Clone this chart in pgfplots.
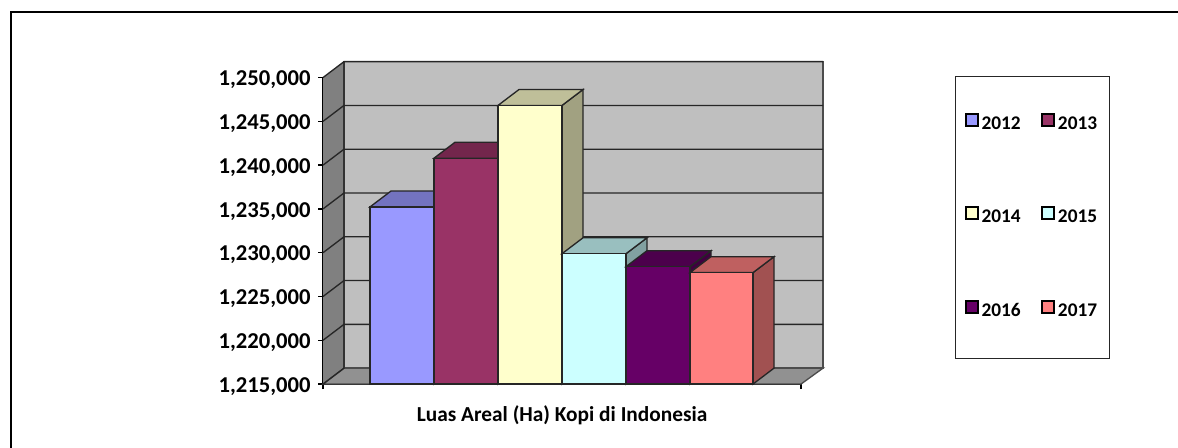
\documentclass[border=0pt]{standalone}
\usepackage{pgfplots}
\pgfplotsset{compat=1.18}
\usepackage{fontspec}
\setmainfont{Carlito}
\definecolor{cA}{HTML}{9999FF}
\definecolor{cB}{HTML}{993366}
\definecolor{cC}{HTML}{FFFFCC}
\definecolor{cD}{HTML}{CCFFFF}
\definecolor{cE}{HTML}{660066}
\definecolor{cF}{HTML}{FF8080}
\def\px{0.75pt}
% one bar: side face, top face, then the front face with its legend entry
% #1 colour, #2 left edge, #3 right edge, #4 value, #5 right edge + depth, #6 left edge + depth, #7 value + depth
\newcommand{\barbox}[7]{%
  \addplot[forget plot,fill=#1!63!black,draw=black!85,line width=1pt] coordinates {(#3,1215000) (#5,1216818) (#5,#7) (#3,#4)} -- cycle;
  \addplot[forget plot,fill=#1!75!black,draw=black!85,line width=1pt] coordinates {(#2,#4) (#3,#4) (#5,#7) (#6,#7)} -- cycle;
  \addplot[fill=#1,draw=black!85,line width=1pt] coordinates {(#2,1215000) (#3,1215000) (#3,#4) (#2,#4)} -- cycle;
}
\begin{document}
\begin{tikzpicture}[x=\px,y=\px]
\useasboundingbox (0,0) rectangle (1178,448);
\fill[white] (0,0) rectangle (1178,448);
\begin{axis}[
  at={(323,73)},anchor=south west,
  scale only axis,width=478*\px,height=306.5*\px,
  xmin=323,xmax=801,ymin=1215000,ymax=1250000,
  clip=false,
  axis x line*=bottom,axis y line*=left,
  axis line style={-,black,line width=1pt},
  tick style={black,line width=1pt},
  tick align=outside,major tick length=5*\px,
  xtick={323,801},xticklabels={,},
  ytick={1215000,1220000,1225000,1230000,1235000,1240000,1245000,1250000},
  yticklabel style={/pgf/number format/fixed,/pgf/number format/1000 sep={,},/pgf/number format/assume math mode=true,font=\fontsize{17}{17}\selectfont\bfseries,xshift=-2pt,yshift=-1.7pt},
  scaled y ticks=false,
  xlabel={Luas Areal (Ha) Kopi di Indonesia},
  xlabel style={font=\fontsize{16}{16}\selectfont\bfseries,yshift=-2pt},
  legend columns=2,
  legend style={at={(1.3222,1.0065)},anchor=north west,draw=black!85,line width=0.8pt,
    font=\fontsize{14.5}{14.5}\selectfont\bfseries,inner xsep=7pt,inner ysep=27.5pt,
    /tikz/every even column/.append style={column sep=13.4pt},
    row sep=54.5pt},
  legend image code/.code={\draw[#1,line width=1.5pt,draw=black] (0pt,-1.5pt) rectangle (9pt,7.5pt);},
]
% walls and floor
\addplot[forget plot,fill=gray,draw=none] coordinates {(323,1215000) (344,1216818) (344,1251818) (323,1250000)} -- cycle;
\addplot[forget plot,fill=black!25,draw=black!70,line width=1pt] coordinates {(344,1216818) (823,1216818) (823,1251818) (344,1251818)} -- cycle;
\addplot[forget plot,fill=black!43,draw=black!70,line width=1pt] coordinates {(323,1215000) (801,1215000) (823,1216818) (344,1216818)} -- cycle;
% gridlines along the back wall and the left wall
\addplot[forget plot,black!85,line width=1pt] coordinates {(323,1250000) (344,1251818) (823,1251818)};
\addplot[forget plot,black!85,line width=1pt] coordinates {(323,1245000) (344,1246818) (823,1246818)};
\addplot[forget plot,black!85,line width=1pt] coordinates {(323,1240000) (344,1241818) (823,1241818)};
\addplot[forget plot,black!85,line width=1pt] coordinates {(323,1235000) (344,1236818) (823,1236818)};
\addplot[forget plot,black!85,line width=1pt] coordinates {(323,1230000) (344,1231818) (823,1231818)};
\addplot[forget plot,black!85,line width=1pt] coordinates {(323,1225000) (344,1226818) (823,1226818)};
\addplot[forget plot,black!85,line width=1pt] coordinates {(323,1220000) (344,1221818) (823,1221818)};
\addplot[forget plot,black!85,line width=1pt] coordinates {(323,1215000) (344,1216818) (344,1251818)};
% bars, 2012 to 2017
\barbox{cA}{370}{434}{1235227}{455}{391}{1237045}
\barbox{cB}{434}{498}{1240795}{519}{455}{1242613}
\barbox{cC}{498}{562}{1246818}{583}{519}{1248636}
\barbox{cD}{562}{626}{1229886}{647}{583}{1231704}
\barbox{cE}{626}{690}{1228409}{711}{647}{1230227}
\barbox{cF}{690}{753}{1227727}{774}{711}{1229545}
\legend{2012,2013,2014,2015,2016,2017}
\end{axis}
\draw[black,line width=1.2pt] (11,0) -- (11,436) -- (1178,436);
\end{tikzpicture}
\end{document}
